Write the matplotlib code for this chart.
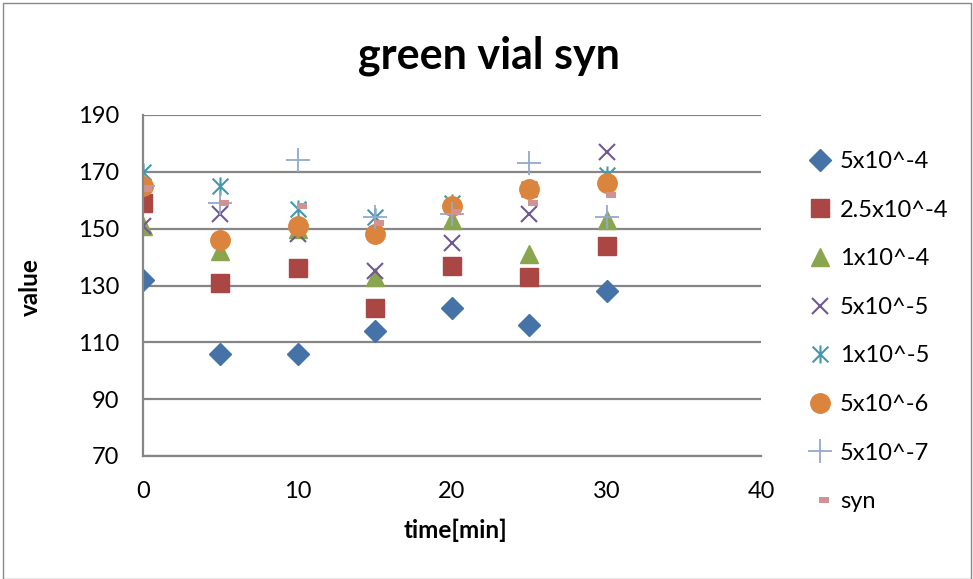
import matplotlib
matplotlib.use("Agg")
import matplotlib.pyplot as plt
from matplotlib.path import Path
from matplotlib.patches import Rectangle

plt.rcParams['font.family'] = ['Lato', 'DejaVu Sans']

# time points in minutes
time = [0, 5, 10, 15, 20, 25, 30]

# measured values per concentration
c_5e4 = [132, 106, 106, 114, 122, 116, 128]
c_25e5 = [159, 131, 136, 122, 137, 133, 144]
c_1e4 = [151, 142, 150, 133, 153, 141, 153]
c_5e5 = [151, 155, 148, 135, 145, 155, 177]
c_1e5 = [170, 165, 157, 154, 159, 164, 169]
c_5e6 = [165, 146, 151, 148, 158, 164, 166]
c_5e7 = [165, 159, 174, 154, 155, 173, 154]
c_syn = [164, 159, 158, 152, 156, 159, 162]

labels = ["5x10^-4", "2.5x10^-4", "1x10^-4", "5x10^-5",
          "1x10^-5", "5x10^-6", "5x10^-7", "syn"]

# custom markers: excel style asterisk and short dash
M, L = Path.MOVETO, Path.LINETO
asterisk = Path([(-1, -1), (1, 1), (-1, 1), (1, -1), (0, -1.15), (0, 1.15)],
                [M, L, M, L, M, L])
dash = Path([(-0.1, -0.3), (1, -0.3), (1, 0.3), (-0.1, 0.3), (-0.1, -0.3)],
            [M, L, L, L, Path.CLOSEPOLY])

styles = [
    dict(marker='D', color='#4572A7', ms=11),
    dict(marker='s', color='#AA4643', ms=13.5),
    dict(marker='^', color='#89A54E', ms=13),
    dict(marker='x', color='#71588F', ms=12, mew=1.5),
    dict(marker=asterisk, color='#4198AF', ms=13, mew=1.5, mfc='none'),
    dict(marker='o', color='#DB843D', ms=14),
    dict(marker='+', color='#93A9CF', ms=17, mew=1.3),
    dict(marker=dash, color='#D19392', ms=13, mew=0),
]

series = [c_5e4, c_25e5, c_1e4, c_5e5, c_1e5, c_5e6, c_5e7, c_syn]

fig = plt.figure(figsize=(9.73, 5.79), dpi=100)
ax = fig.add_axes([143/973, 1 - 456/579, 618/973, 341/579])

for vals, lab, st in zip(series, labels, styles):
    ax.plot(time, vals, linestyle='none', label=lab, **st)

ax.set_xlim(0, 40)
ax.set_ylim(70, 190)
ax.set_xticks(range(0, 41, 10))
ax.set_yticks(range(70, 191, 20))
ax.tick_params(length=0, labelsize=17)
ax.tick_params(axis='x', pad=18)
ax.tick_params(axis='y', pad=17)
ax.yaxis.grid(True, color='#868686', lw=1.6)
ax.set_axisbelow(True)
for s in ['top', 'right']:
    ax.spines[s].set_visible(False)
for s in ['left', 'bottom']:
    ax.spines[s].set_color('#868686')
    ax.spines[s].set_linewidth(1.6)

ax.set_xlabel("time[min]", fontsize=17.5, fontweight='bold')
ax.set_ylabel("value", fontsize=17.5, fontweight='bold')
ax.yaxis.set_label_coords(30/973, 1 - 287/579, transform=fig.transFigure)
ax.xaxis.set_label_coords(455/973, 1 - 530/579, transform=fig.transFigure)
ax.xaxis.label.set_va('center')
ax.yaxis.label.set_va('center')

fig.text(489/973, 1 - 56/579, "green vial syn", fontsize=31, fontweight='bold',
         ha='center', va='center')

ax.legend(loc='upper left', bbox_to_anchor=(808/973, 1 - 151/579),
          bbox_transform=fig.transFigure, frameon=False, fontsize=17,
          handlelength=1.0, handletextpad=0.35, labelspacing=1.17,
          borderpad=0, borderaxespad=0)

fig.add_artist(Rectangle((3/973, 0), 968/973, 1 - 3/579, transform=fig.transFigure,
                         fill=False, edgecolor='#888888', lw=1))

fig.savefig("out.png", dpi=100)
